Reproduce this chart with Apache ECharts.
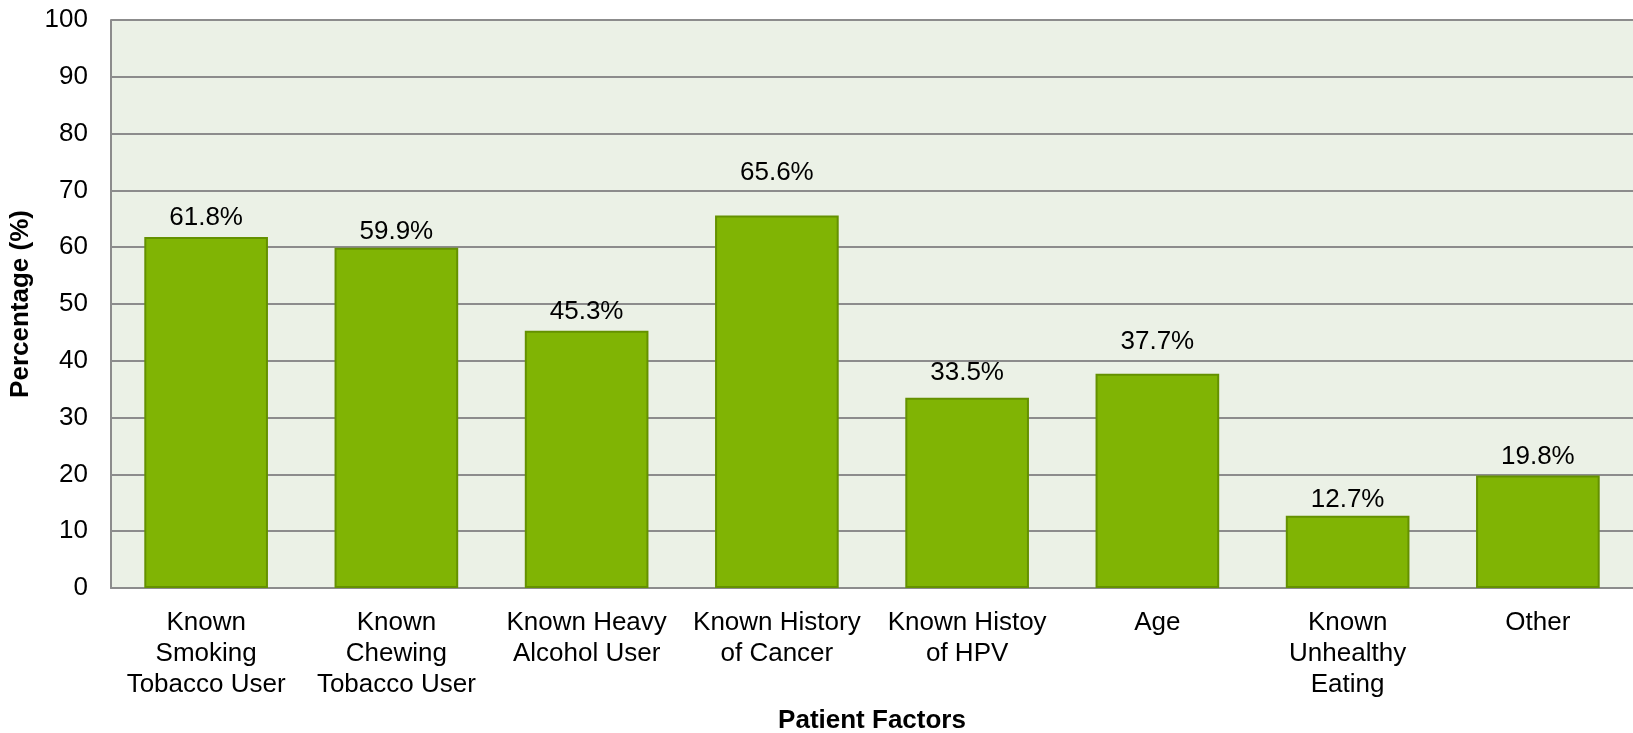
<!DOCTYPE html>
<html>
<head>
<meta charset="utf-8">
<script src="https://cdn.jsdelivr.net/npm/echarts@6/dist/echarts.min.js"></script>
<style>
  html, body { margin: 0; padding: 0; background: #fff; }
  #chart { width: 1633px; height: 733px; }
</style>
</head>
<body>
<div id="chart"></div>
<script>
// categories and values
var categories = [
    'Known\nSmoking\nTobacco User',
    'Known\nChewing\nTobacco User',
    'Known Heavy\nAlcohol User',
    'Known History\nof Cancer',
    'Known Histoy\nof HPV',
    'Age',
    'Known\nUnhealthy\nEating',
    'Other'
];
var percentages = [61.8, 59.9, 45.3, 65.6, 33.5, 37.7, 12.7, 19.8];
var yTicks = { min: 0, max: 100, interval: 10 };

// label gap above each bar (style only, labels were hand placed in the original)
var labelGap = [6, 3, 6, 30, 12, 19, 3, 6];

var font = 'Liberation Sans, Arial, sans-serif';

var barData = percentages.map(function (v, i) {
    return { value: v, label: { distance: labelGap[i] } };
});

var myChart = echarts.init(document.getElementById('chart'));

myChart.setOption({
    animation: false,
    textStyle: { fontFamily: font },
    grid: {
        left: 111, right: 0, top: 20, bottom: 145,
        outerBoundsMode: 'none',
        containLabel: false,
        show: true,
        backgroundColor: '#ebf1e6',
        borderWidth: 0
    },
    xAxis: {
        type: 'category',
        data: categories,
        name: 'Patient Factors',
        nameLocation: 'middle',
        nameGap: 120,
        nameTextStyle: { fontSize: 26, fontWeight: 'bold', color: '#000', fontFamily: font },
        axisLine: { show: true, lineStyle: { color: '#8c8c8c', width: 2 } },
        axisTick: { show: false },
        axisLabel: {
            interval: 0, margin: 19, fontSize: 26, lineHeight: 31,
            color: '#000', fontFamily: font
        }
    },
    yAxis: {
        type: 'value',
        min: yTicks.min, max: yTicks.max, interval: yTicks.interval,
        name: 'Percentage (%)',
        nameLocation: 'middle',
        nameGap: 74,
        nameTextStyle: { fontSize: 26, fontWeight: 'bold', color: '#000', fontFamily: font },
        axisLine: { show: true, lineStyle: { color: '#8c8c8c', width: 2 } },
        axisTick: { show: false },
        axisLabel: { margin: 23, fontSize: 26, color: '#000', fontFamily: font },
        splitLine: { show: true, lineStyle: { color: '#8c8c8c', width: 2 } }
    },
    series: [{
        type: 'bar',
        data: barData,
        barCategoryGap: '35%',
        itemStyle: { color: '#80b404', borderColor: '#649100', borderWidth: 2 },
        label: {
            show: true,
            position: 'top',
            fontSize: 26,
            color: '#000',
            fontFamily: font,
            formatter: function (p) { return p.value.toFixed(1) + '%'; }
        }
    }]
});
</script>
</body>
</html>
